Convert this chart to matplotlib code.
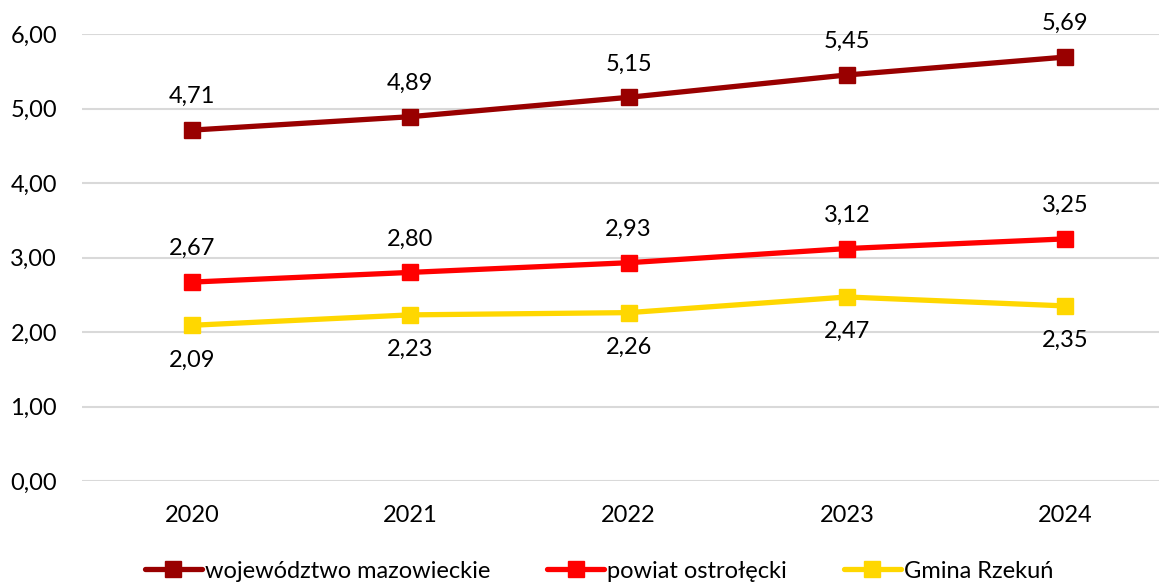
import matplotlib
matplotlib.use("Agg")
import matplotlib.pyplot as plt
from matplotlib.ticker import FuncFormatter

years = ["2020", "2021", "2022", "2023", "2024"]
mazowieckie = [4.71, 4.89, 5.15, 5.45, 5.69]
powiat = [2.67, 2.80, 2.93, 3.12, 3.25]
gmina = [2.09, 2.23, 2.26, 2.47, 2.35]
series_names = ["województwo mazowieckie", "powiat ostrołęcki", "Gmina Rzekuń"]
colors = ["#990000", "#FF0000", "#FFD700"]

plt.rcParams['font.family'] = ['Lato', 'DejaVu Sans']

fig = plt.figure(figsize=(11.59, 5.83), dpi=100)
ax = fig.add_axes([82/1159, 1 - 481/583, (1159-82)/1159, (481-34)/583])

x = list(range(len(years)))
data = [mazowieckie, powiat, gmina]
offsets = [24, 24, -25]
for vals, name, col, off in zip(data, series_names, colors, offsets):
    ax.plot(x, vals, color=col, lw=3.8, marker='s', markersize=11, label=name,
            solid_capstyle='round', zorder=3)
    for xi, v in zip(x, vals):
        ax.annotate(f"{v:.2f}".replace('.', ','), (xi, v), xytext=(0, off),
                    textcoords='offset points', ha='center', va='center',
                    fontsize=17, color='#000000')

ax.set_ylim(0, 6)
ax.set_xlim(-0.504, 4.43)
ax.set_yticks([0, 1, 2, 3, 4, 5, 6])
ax.yaxis.set_major_formatter(FuncFormatter(lambda v, p: f"{v:.2f}".replace('.', ',')))
ax.set_xticks(x)
ax.set_xticklabels(years)
ax.tick_params(axis='both', length=0, labelsize=17, colors='#000000')
ax.tick_params(axis='y', pad=18)
ax.tick_params(axis='x', pad=17)
ax.grid(axis='y', color='#D9D9D9', lw=1.5)
ax.set_axisbelow(True)
for s in ax.spines.values():
    s.set_visible(False)

leg = fig.legend(loc='center', bbox_to_anchor=(0.517, 1 - 571/583), ncol=3, frameon=False,
                 fontsize=17, handlelength=2.4, columnspacing=2.4, handletextpad=0.15)

fig.savefig("out.png", dpi=100)
